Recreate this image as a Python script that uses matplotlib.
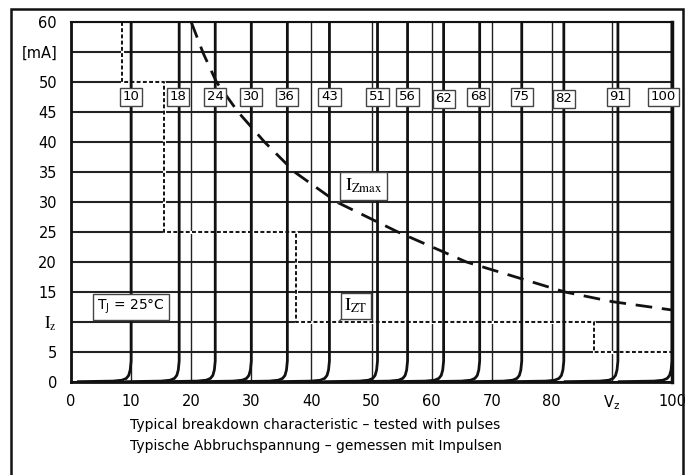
import numpy as np
import matplotlib as mpl
mpl.use("agg")
import matplotlib.pyplot as plt
from matplotlib.patches import Rectangle

# breakdown voltages of the curves
vz = [10, 18, 24, 30, 36, 43, 51, 56, 62, 68, 75, 82, 91, 100]
vz_lab = ["10", "18", "24", "30", "36", "43", "51", "56", "62", "68", "75", "82", "91", "100"]
lab_x = [10, 17.8, 24, 30, 35.9, 43, 51, 56, 62, 67.8, 75, 82, 91, 98.6]
lab_y = [47.5, 47.5, 47.5, 47.5, 47.5, 47.5, 47.5, 47.5, 47.2, 47.5, 47.5, 47.2, 47.5, 47.5]

# knee shape near the baseline (offset from Vz, current)
knee_dv = [-9, -3, -1.5, -0.8, -0.4, -0.15, 0, 0]
knee_i = [0.05, 0.15, 0.3, 0.6, 1.1, 2.0, 3.5, 60]

# max current curve
izmax_v = [20, 22, 24.2, 27.8, 32.2, 37.2, 44.2, 54.4, 65.8, 82.2, 90, 100]
izmax_i = [60, 54.8, 50, 45, 40, 35, 30, 25, 20, 15, 13.4, 12]

# test current steps
izt_v = [8.5, 8.5, 15.5, 15.5, 37.5, 37.5, 87, 87, 100]
izt_i = [60, 50, 50, 25, 25, 10, 10, 5, 5]

yticks = [0, 5, 10, 15, 20, 25, 30, 35, 40, 45, 50, 55, 60]
ylabels = ["0", "5", r"$\mathrm{I}_{\mathrm{z}}$", "15", "20", "25", "30", "35", "40", "45", "50", "[mA]", "60"]
xticks = [0, 10, 20, 30, 40, 50, 60, 70, 80, 90, 100]
xlabels = ["0", "10", "20", "30", "40", "50", "60", "70", "80", r"V$_\mathrm{z}$", "100"]

plt.rcParams["font.family"] = ["DejaVu Sans"]
fig = plt.figure(figsize=(6.86, 4.75), dpi=100)
ax = fig.add_axes([71/686, 1-382/475, (672-71)/686, (382-22)/475])

ax.set_xlim(0, 100)
ax.set_ylim(0, 60)
ax.set_xticks(xticks)
ax.set_xticklabels(xlabels, fontsize=10.5)
ax.set_yticks(yticks)
ax.set_yticklabels(ylabels, fontsize=10.5)
for t in ax.get_yticklabels():
    if "mathrm" in t.get_text():
        t.set_math_fontfamily("stix")
        t.set_fontsize(12)
ax.tick_params(axis="x", length=0, pad=8.3)
ax.tick_params(axis="y", length=0, pad=10)

ax.grid(axis="y", color="#222222", lw=1.5, zorder=0.5)
ax.grid(axis="x", color="#222222", lw=1.0, zorder=0.5)
ax.set_axisbelow(True)
for s in ax.spines.values():
    s.set_linewidth(1.5)
    s.set_color("#111111")
ax.spines["right"].set_linewidth(2.5)
ax.spines["left"].set_linewidth(2)
ax.spines["bottom"].set_linewidth(2)

# I_ZT step line: white underlay hides the grid where the dotted line runs
ax.plot(izt_v, izt_i, color="white", lw=2.2, zorder=1.5)
ax.plot(izt_v, izt_i, color="#111111", lw=1.4, dashes=(2, 1.2), zorder=2.5)

for v in vz:
    ax.plot(np.array(knee_dv) + v, knee_i, color="#111111", lw=2, solid_capstyle="butt", zorder=2)

ax.plot(izmax_v, izmax_i, color="#111111", lw=2, dashes=(6, 3.5), zorder=3)

for x, y, s in zip(lab_x, lab_y, vz_lab):
    ax.text(x, y, s, ha="center", va="center", fontsize=9.5, zorder=4,
            bbox=dict(boxstyle="square,pad=0.2", fc="white", ec="#444444", lw=1))

ax.annotate(r"$\mathrm{I}_{\mathrm{Zmax}}$", xy=(44.4, 29.8), xytext=(48.7, 32.7),
            ha="center", va="center", fontsize=13, math_fontfamily="stix", zorder=4,
            bbox=dict(boxstyle="square,pad=0.25", fc="white", ec="#444444", lw=1),
            arrowprops=dict(arrowstyle="-", color="#444444", lw=1, shrinkA=0, shrinkB=0))
ax.annotate(r"$\mathrm{I}_{\mathrm{ZT}}$", xy=(44.6, 10.1), xytext=(47.4, 12.7),
            ha="center", va="center", fontsize=13, math_fontfamily="stix", zorder=4,
            bbox=dict(boxstyle="square,pad=0.2", fc="white", ec="#444444", lw=1),
            arrowprops=dict(arrowstyle="-", color="#444444", lw=1, shrinkA=0, shrinkB=0))
ax.text(10, 12.5, r"T$_\mathrm{J}$ = 25°C", ha="center", va="center", fontsize=10, zorder=4,
        bbox=dict(boxstyle="square,pad=0.3", fc="white", ec="#444444", lw=1))

fig.text(130/686, 1-425/475, "Typical breakdown characteristic \u2013 tested with pulses",
         ha="left", va="center", fontsize=10)
fig.text(130/686, 1-446/475, "Typische Abbruchspannung \u2013 gemessen mit Impulsen",
         ha="left", va="center", fontsize=10)

fig.add_artist(Rectangle((11/686, -0.05), (683-11)/686, 1.05-9/475, transform=fig.transFigure,
                         fill=False, ec="#111111", lw=1.8))

fig.savefig("out.png", dpi=100)
